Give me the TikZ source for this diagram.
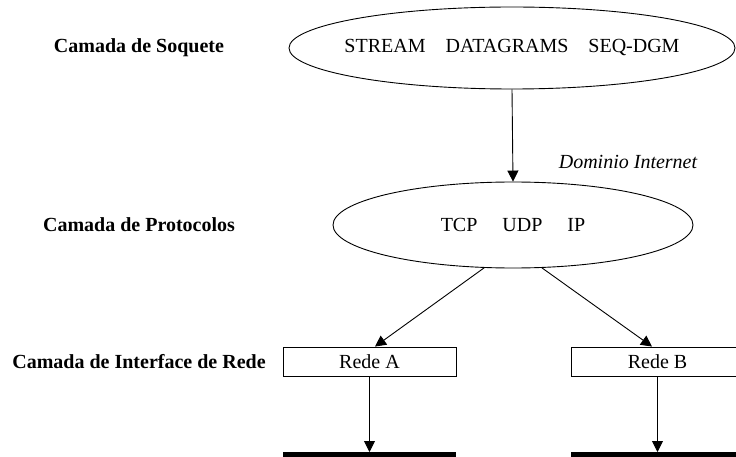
\documentclass[tikz,border=0pt]{standalone}
\usepackage{fontspec}
\setmainfont{Liberation Serif}
\usetikzlibrary{shapes.geometric,arrows.meta}

\tikzset{
  layer/.style={ellipse, draw, line width=0.9pt, inner sep=0pt},
  txt/.style={font=\fontsize{20}{24}\selectfont, inner sep=0pt},
  netbox/.style={rectangle, draw, line width=0.9pt, inner sep=0pt,
                 minimum width=173pt, minimum height=29pt,
                 font=\fontsize{20}{24}\selectfont},
  layername/.style={font=\fontsize{20}{24}\selectfont\bfseries},
  conn/.style={line width=0.9pt, -{Triangle[length=11pt,width=11pt]}},
  bus/.style={line width=6pt}
}

\begin{document}
\begin{tikzpicture}[x=1pt,y=-1pt]
  \clip (0,0) rectangle (736,457);
  \fill[white] (0,0) rectangle (736,457);

  % layer names
  \node[layername] (lsock)  at (139,48)  {Camada de Soquete};
  \node[layername] (lproto) at (139,225) {Camada de Protocolos};
  \node[layername] (lnet)   at (139,362) {Camada de Interface de Rede};

  % socket layer
  \node[layer, minimum width=446pt, minimum height=82pt] (sock) at (512,48) {};
  \node[txt] (socktxt) at (sock.center)
    {STREAM\hspace{1em}DATAGRAMS\hspace{1em}SEQ-DGM};

  % protocol layer
  \node[layer, minimum width=360pt, minimum height=86pt] (proto) at (513,225) {};
  \node[txt] (prototxt) at (proto.center) {TCP\hspace{1.25em}UDP\hspace{1.25em}IP};
  \node[txt, font=\fontsize{20}{24}\selectfont\itshape] (dom) at (628,162) {Dominio Internet};

  % network interfaces
  \node[netbox] (ra) at (369.5,361.5) {Rede A};
  \node[netbox] (rb) at (657.5,361.5) {Rede B};

  % physical networks
  \coordinate (busAl) at (283,455);
  \coordinate (busAr) at (456,455);
  \coordinate (busBl) at (571,455);
  \coordinate (busBr) at (744,455);
  \coordinate (busA) at (369.5,452);
  \coordinate (busB) at (657.5,452);
  \draw[bus] (busAl) -- (busAr);
  \draw[bus] (busBl) -- (busBr);

  % connectors
  \draw[conn] (sock.south) -- (proto.north);
  \draw[conn] (proto.236) -- ([xshift=5.5pt]ra.north);
  \draw[conn] (proto.304) -- ([xshift=-5.5pt]rb.north);
  \draw[conn] (ra.south) -- (busA);
  \draw[conn] (rb.south) -- (busB);
\end{tikzpicture}
\end{document}
